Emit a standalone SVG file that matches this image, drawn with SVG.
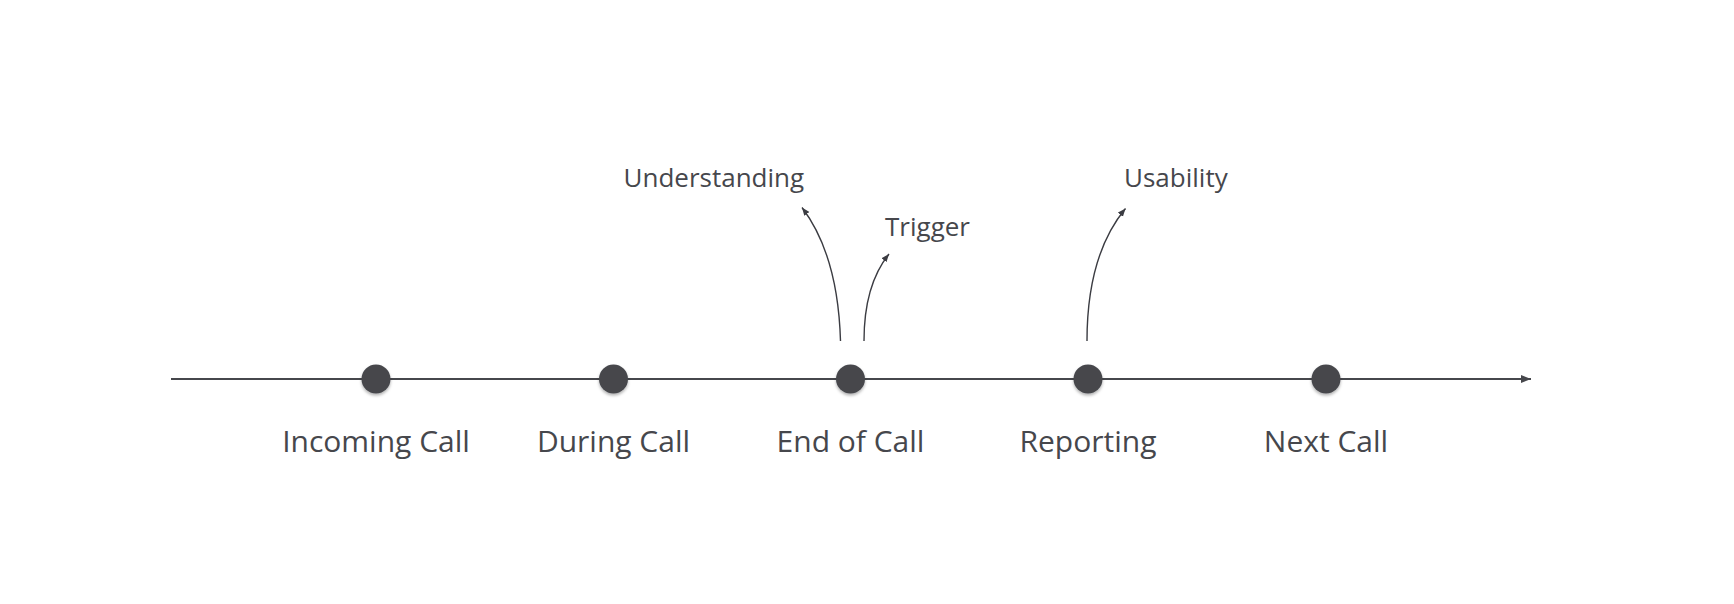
<svg xmlns="http://www.w3.org/2000/svg" width="1734" height="604" viewBox="0 0 1734 604">
  <defs>
    <style>
      .axis { stroke: #46474c; stroke-width: 2; fill: none; }
      .conn { stroke: #3b3c42; stroke-width: 1.4; fill: none; }
      .dot { fill: #46474c; }
      .big { font-family: "Open Sans", "Noto Sans", sans-serif; font-size: 30px; fill: #46474c; text-anchor: middle; }
      .small { font-family: "Open Sans", "Noto Sans", sans-serif; font-size: 26px; fill: #46474c; }
    </style>
    <marker id="axisHead" markerUnits="userSpaceOnUse" markerWidth="12" markerHeight="10" refX="10" refY="5" orient="auto">
      <path d="M0,1 L10,5 L0,9 Z" fill="#46474c"/>
    </marker>
    <marker id="connHead" markerUnits="userSpaceOnUse" markerWidth="10" markerHeight="8" refX="8" refY="4" orient="auto">
      <path d="M0,0.8 L8,4 L0,7.2 Z" fill="#3b3c42"/>
    </marker>
    <filter id="shadow" x="-50%" y="-50%" width="200%" height="200%">
      <feDropShadow dx="0" dy="2" stdDeviation="1.5" flood-color="#000" flood-opacity="0.3"/>
    </filter>
  </defs>
  <rect width="1734" height="604" fill="#ffffff"/>

  <g id="connectors">
    <line class="axis" x1="171" y1="379" x2="1531" y2="379" marker-end="url(#axisHead)"/>
    <path class="conn" d="M840.5,341 Q838,255 802,207.5" marker-end="url(#connHead)"/>
    <path class="conn" d="M864,341 Q864,285 889,254" marker-end="url(#connHead)"/>
    <path class="conn" d="M1087,341 Q1087,255 1125.5,208.5" marker-end="url(#connHead)"/>
  </g>

  <g id="node-incoming-call">
    <circle class="dot" cx="376" cy="379" r="14.5" filter="url(#shadow)"/>
    <text class="big" x="376" y="452">Incoming Call</text>
  </g>
  <g id="node-during-call">
    <circle class="dot" cx="613.5" cy="379" r="14.5" filter="url(#shadow)"/>
    <text class="big" x="613.5" y="452">During Call</text>
  </g>
  <g id="node-end-of-call">
    <circle class="dot" cx="850.5" cy="379" r="14.5" filter="url(#shadow)"/>
    <text class="big" x="850.5" y="452">End of Call</text>
  </g>
  <g id="node-reporting">
    <circle class="dot" cx="1088" cy="379" r="14.5" filter="url(#shadow)"/>
    <text class="big" x="1088" y="452">Reporting</text>
  </g>
  <g id="node-next-call">
    <circle class="dot" cx="1326" cy="379" r="14.5" filter="url(#shadow)"/>
    <text class="big" x="1326" y="452">Next Call</text>
  </g>

  <g id="node-understanding">
    <text class="small" x="623.5" y="187">Understanding</text>
  </g>
  <g id="node-trigger">
    <text class="small" x="885" y="236">Trigger</text>
  </g>
  <g id="node-usability">
    <text class="small" x="1124" y="187">Usability</text>
  </g>
</svg>
